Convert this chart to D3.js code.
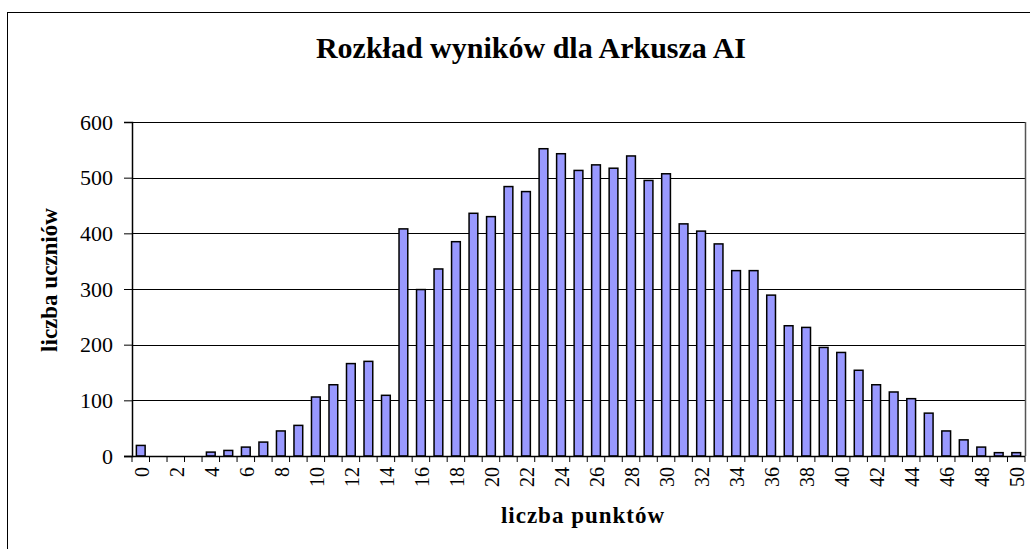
<!DOCTYPE html>
<html>
<head>
<meta charset="utf-8">
<script src="https://cdn.jsdelivr.net/npm/d3@7"></script>
<style>
  body { margin: 0; background: #fff; }
  svg text { font-family: "Liberation Serif", "Times New Roman", serif; fill: #000; }
</style>
</head>
<body>
<script>
// points (0..50) and number of students for each
var points = d3.range(0, 51);
var students = [19, 0, 0, 0, 7, 10, 16, 25, 45, 55,
                106, 128, 166, 170, 109, 408, 299, 336, 385, 436,
                430, 484, 475, 552, 543, 513, 523, 517, 539, 495,
                507, 417, 404, 381, 333, 333, 289, 234, 231, 195,
                186, 154, 128, 115, 103, 77, 45, 29, 16, 6, 6];
var yTicks = [0, 100, 200, 300, 400, 500, 600];

var W = 1030, H = 549;
var plot = { left: 132, top: 122, right: 1025, bottom: 456 };

var svg = d3.select('body').append('svg')
    .attr('width', W).attr('height', H);

// outer chart border (runs off the right and bottom edge)
svg.append('rect')
    .attr('x', 7.5).attr('y', 12.5)
    .attr('width', W).attr('height', H)
    .attr('fill', 'none').attr('stroke', '#000').attr('stroke-width', 1);

var x = d3.scaleBand()
    .domain(points)
    .range([plot.left, plot.right])
    .paddingInner(0.5).paddingOuter(0.25);

var y = d3.scaleLinear()
    .domain([0, 600])
    .range([plot.bottom, plot.top]);

// gridlines
svg.append('g').selectAll('line')
    .data(yTicks.slice(1))
    .enter().append('line')
    .attr('x1', plot.left).attr('x2', plot.right)
    .attr('y1', function (d) { return Math.round(y(d)) + 0.5; })
    .attr('y2', function (d) { return Math.round(y(d)) + 0.5; })
    .attr('stroke', '#000').attr('stroke-width', 1);

// plot area right border
svg.append('line')
    .attr('x1', plot.right + 0.5).attr('x2', plot.right + 0.5)
    .attr('y1', plot.top).attr('y2', plot.bottom)
    .attr('stroke', '#555').attr('stroke-width', 1.5);

// bars
svg.append('g').selectAll('rect')
    .data(students)
    .enter().append('rect')
    .attr('x', function (d, i) { return x(points[i]); })
    .attr('y', function (d) { return y(d); })
    .attr('width', x.bandwidth())
    .attr('height', function (d) { return plot.bottom - y(d); })
    .attr('fill', '#9999FF')
    .attr('stroke', function (d) { return d > 0 ? '#000' : 'none'; })
    .attr('stroke-width', 1.5);

// y axis
var yAxis = svg.append('g')
    .attr('transform', 'translate(' + plot.left + ',0)')
    .call(d3.axisLeft(y).tickValues(yTicks).tickSize(8).tickPadding(11));
yAxis.select('.domain').attr('stroke', '#000').attr('stroke-width', 1.5);
yAxis.selectAll('.tick line').attr('stroke', '#000');
yAxis.selectAll('text')
    .attr('font-size', 22).attr('fill', '#000')
    .style('font-family', '"Liberation Serif", serif');

// x axis: tick marks at category boundaries
var step = x.step();
var bounds = d3.range(0, points.length + 1).map(function (i) { return plot.left + i * step; });
svg.append('g').selectAll('line')
    .data(bounds)
    .enter().append('line')
    .attr('x1', function (d) { return d; }).attr('x2', function (d) { return d; })
    .attr('y1', plot.bottom).attr('y2', plot.bottom + 6)
    .attr('stroke', '#000').attr('stroke-width', 1);
svg.append('line')
    .attr('x1', plot.left - 8).attr('x2', plot.right)
    .attr('y1', plot.bottom + 0.5).attr('y2', plot.bottom + 0.5)
    .attr('stroke', '#000').attr('stroke-width', 1.5);

// x labels, every second point, rotated
svg.append('g').selectAll('text')
    .data(points.filter(function (p) { return p % 2 === 0; }))
    .enter().append('text')
    .attr('transform', function (d) {
        return 'translate(' + (x(d) + x.bandwidth() / 2 + 8) + ',' + (plot.bottom + 11) + ') rotate(-90)';
    })
    .attr('text-anchor', 'end')
    .attr('font-size', 20)
    .text(function (d) { return d; });

// title and axis titles
svg.append('text')
    .attr('x', 531).attr('y', 58)
    .attr('text-anchor', 'middle')
    .attr('font-size', 30).attr('font-weight', 'bold')
    .text('Rozkład wyników dla Arkusza AI');

svg.append('text')
    .attr('transform', 'translate(57,280) rotate(-90)')
    .attr('text-anchor', 'middle')
    .attr('font-size', 23).attr('font-weight', 'bold')
    .text('liczba uczniów');

svg.append('text')
    .attr('x', 583).attr('y', 523)
    .attr('text-anchor', 'middle')
    .attr('font-size', 23).attr('font-weight', 'bold')
    .attr('letter-spacing', 1)
    .text('liczba punktów');
</script>
</body>
</html>
